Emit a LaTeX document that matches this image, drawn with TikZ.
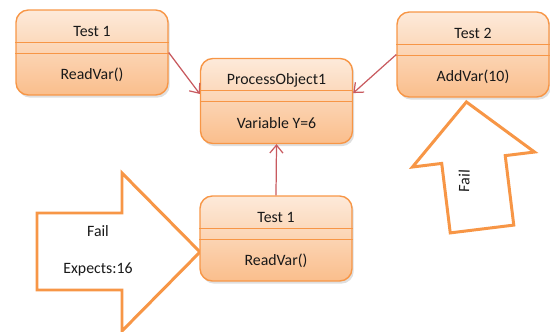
\documentclass[tikz,border=0pt]{standalone}
\usepackage{fontspec}
\setmainfont{Carlito}
\usetikzlibrary{calc,shadows,arrows.meta}

\definecolor{boxline}{RGB}{247,150,70}
\definecolor{boxtop}{RGB}{253,234,218}
\definecolor{boxbottom}{RGB}{250,190,140}
\definecolor{linkred}{RGB}{200,90,95}
\definecolor{labeltext}{RGB}{25,25,25}

\tikzset{
  classbox/.style={draw=boxline, line width=0.8pt, rounded corners=7pt,
    top color=boxtop, bottom color=boxbottom,
    minimum width=3.04cm, minimum height=1.7cm,
    drop shadow={shadow xshift=1pt, shadow yshift=-1.5pt, opacity=0.25}},
  boxtext/.style={text=labeltext, font=\fontsize{9}{11}\selectfont, inner sep=0pt},
  link/.style={draw=linkred, line width=0.7pt, -{Straight Barb[length=4.5pt,width=7.5pt]}},
  bigarrow/.style={draw=boxline, line width=1.7pt, fill=white, line join=miter}
}

% class box: name, position, title, operation
\newcommand{\classbox}[4]{%
  \node[classbox] (#1) at (#2) {};
  \draw[boxline, line width=0.7pt] ($(#1.north west)!0.38!(#1.south west)$) -- ($(#1.north east)!0.38!(#1.south east)$);
  \draw[boxline, line width=0.7pt] ($(#1.north west)!0.51!(#1.south west)$) -- ($(#1.north east)!0.51!(#1.south east)$);
  \node[boxtext] (#1-title) at ($(#1.north)!0.26!(#1.south)$) {#3};
  \node[boxtext] (#1-op) at ($(#1.north)!0.755!(#1.south)$) {#4};
}

\begin{document}
\begin{tikzpicture}[x=0.02cm, y=-0.02cm]
\useasboundingbox (0,0) rectangle (550,331);

% fail arrows
\draw[bigarrow] (37,213) -- (122,213) -- (122,173) -- (200,252) -- (122,331) -- (122,290) -- (37,290) -- cycle;
\begin{scope}[shift={(482,229)}, rotate=7]
  \draw[bigarrow] (-32,0) -- (-32,-70) -- (-61.5,-70) -- (0,-128) -- (61.5,-70) -- (32,-70) -- (32,0) -- cycle;
\end{scope}
\node[boxtext] (fail1) at (98,231) {Fail};
\node[boxtext] (expects) at (98,269) {Expects:16};
\node[boxtext, rotate=88] (fail2) at (464,181) {Fail};

% classes
\classbox{test1}{92,52.5}{Test 1}{ReadVar()}
\classbox{proc}{276.5,101}{ProcessObject1}{Variable Y=6}
\classbox{test2}{473,54.5}{Test 2}{AddVar(10)}
\classbox{test3}{276,238.5}{Test 1}{ReadVar()}

% calls
\draw[link] (test1.east) -- ([yshift=4pt]proc.west);
\draw[link] (test2.west) -- ([yshift=4.5pt]proc.east);
\draw[link] (test3.north) -- (proc.south);
\end{tikzpicture}
\end{document}
